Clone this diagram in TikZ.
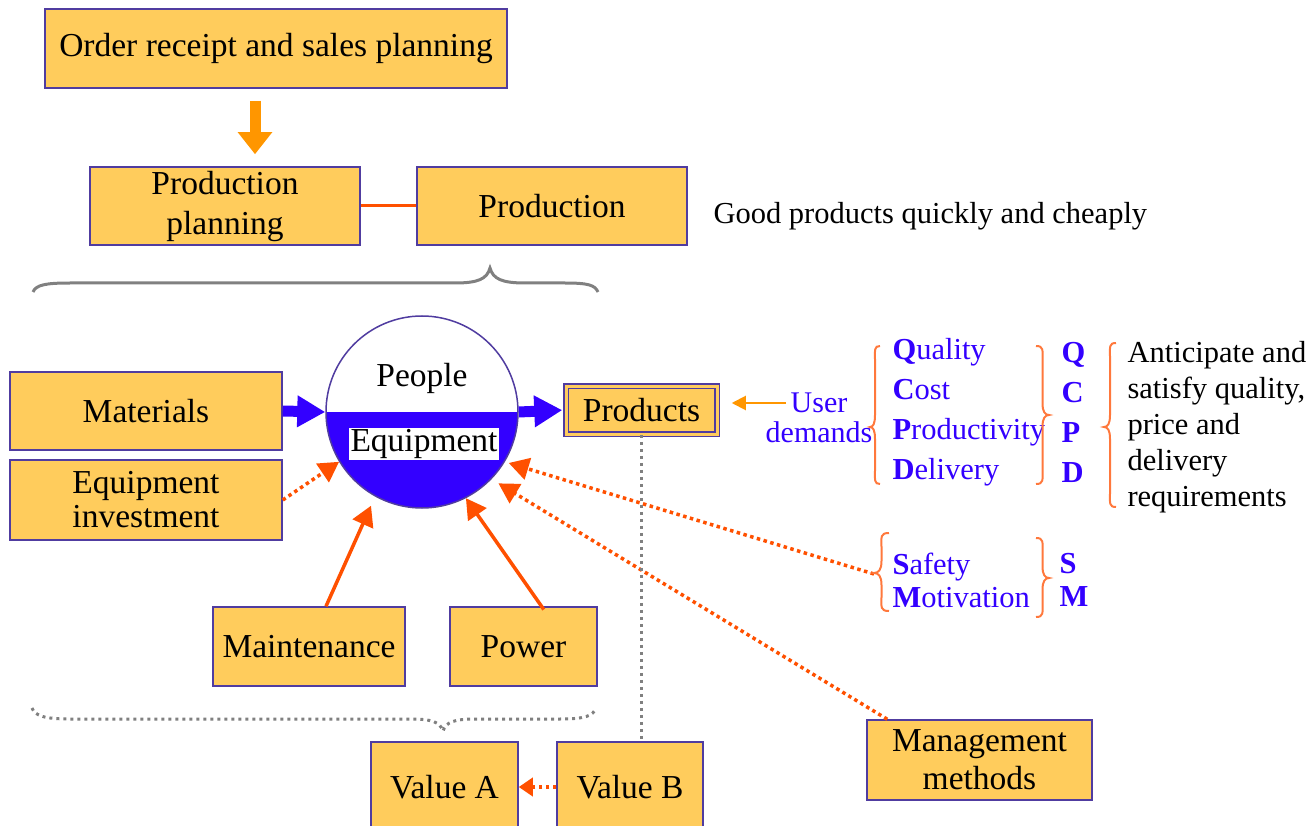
\documentclass[tikz,border=0pt]{standalone}
\usepackage{fontspec}
\setmainfont{Liberation Serif}
\usetikzlibrary{arrows.meta}
\definecolor{BoxFill}{RGB}{255,204,92}
\definecolor{BoxLine}{RGB}{80,60,160}
\definecolor{PushBlue}{RGB}{51,0,255}
\definecolor{ArrowRed}{RGB}{255,80,0}
\definecolor{FlowOrange}{RGB}{255,150,0}
\definecolor{BraceOrange}{RGB}{255,120,60}
\newcommand{\BoxFont}{\fontsize{33.5}{36}\selectfont}
\newcommand{\ListFont}{\fontsize{30.5}{40}\selectfont}
% brace: tip x, tip y, signed width, top y, bottom y
\newcommand{\curlybrace}[6][]{%
	\draw[#1] ({#2+#4},#5) .. controls ({#2+0.4*#4},#5) and ({#2+0.5*#4},{#5+4}) .. ({#2+0.5*#4},{#5+14})
	-- ({#2+0.5*#4},{#3-12}) .. controls ({#2+0.5*#4},{#3-3}) and ({#2+0.3*#4},#3) .. (#2,#3)
	.. controls ({#2+0.3*#4},#3) and ({#2+0.5*#4},{#3+3}) .. ({#2+0.5*#4},{#3+12})
	-- ({#2+0.5*#4},{#6-14}) .. controls ({#2+0.5*#4},{#6-4}) and ({#2+0.4*#4},#6) .. ({#2+#4},#6);}

\begin{document}
\begin{tikzpicture}[x=1pt,y=1pt,yscale=-1,xscale=1,
	box/.style={draw=BoxLine, fill=BoxFill, line width=1.5pt, inner sep=0pt, align=center, font=\BoxFont},
	fatblue/.style={PushBlue, line width=11pt, -{Triangle[length=28pt,width=30pt]}},
	redarrow/.style={ArrowRed, line width=3.5pt, -{Triangle[length=20pt,width=22pt]}},
	reddots/.style={redarrow, dash pattern=on 3.5pt off 3.5pt},
	graydots/.style={gray, line width=3pt, dash pattern=on 3pt off 4pt},
	orangebrace/.style={BraceOrange, line width=2pt}]
		\useasboundingbox (0,0) rectangle (1315,826);

		% Planning boxes at the top
		\node[box, minimum width=462pt, minimum height=79pt] (order) at (276,48.5) {Order receipt and sales planning};
		\node[box, minimum width=270pt, minimum height=78pt, font=\fontsize{33.5}{40}\selectfont] (plan) at (225,206) {Production\\planning};
		\node[box, minimum width=270pt, minimum height=78pt] (prodn) at (552,206) {Production};
		\node[anchor=west, font=\ListFont] (good) at (710,216) {Good products quickly and cheaply};

		\draw[FlowOrange, line width=11pt, -{Triangle[length=22pt,width=33pt]}, shorten <=12pt, shorten >=12pt]
		([xshift=-21pt]order.south) -- ([xshift=30pt]plan.north);
		\draw[ArrowRed, line width=3pt] (plan.east) -- (prodn.west);

		% Gray brace under the planning row
		\draw[gray, line width=3pt] (33,292) .. controls (36,285) and (45,283) .. (70,283) -- (455,283)
		.. controls (478,283) and (487,279) .. (490,268) .. controls (493,279) and (502,283) .. (525,283)
		-- (565,283) .. controls (588,283) and (595,285) .. (598,292);

		% People / Equipment circle
		\node[circle, draw=BoxLine, line width=1.5pt, fill=white, minimum size=192pt, inner sep=0pt,
		path picture={\fill[PushBlue] (path picture bounding box.west) rectangle (path picture bounding box.south east);}]
		(pe) at (422,412) {};
		\node[font=\BoxFont] (people) at (422,378) {People};
		\node[font=\BoxFont, fill=white, inner sep=1.5pt] (equip) at (424,444) {Equipment};

		% Input boxes
		\node[box, minimum width=272pt, minimum height=78pt] (mat) at (146,411) {Materials};
		\node[box, minimum width=272pt, minimum height=80pt, font=\fontsize{33.5}{34}\selectfont] (invest) at (146,500) {Equipment\\investment};
		\node[box, minimum width=192pt, minimum height=79pt] (maint) at (309,646.5) {Maintenance};
		\node[box, minimum width=147pt, minimum height=79pt] (power) at (523.5,646.5) {Power};
		\node[box, minimum width=225pt, minimum height=80pt, font=\fontsize{33.5}{38}\selectfont] (mgmt) at (979.5,760) {Management\\methods};

		% Products box
		\node[box, double=BoxFill, double distance=3pt, minimum width=151pt, minimum height=48pt] (prods) at (641.5,410) {Products};

		% Value boxes (cut by the bottom edge)
		\node[box, minimum width=147pt, minimum height=90pt] (vala) at (444.5,787) {Value A};
		\node[box, minimum width=146pt, minimum height=90pt] (valb) at (630,787) {Value B};

		% Blue flow through the circle
		\draw[fatblue] (mat.east) -- (pe.west);
		\draw[fatblue, shorten >=3pt] (pe.east) -- (prods.west);

		% Red arrows into the circle
		\draw[reddots] (invest.east) -- (pe.211);
		\draw[redarrow, shorten >=10pt] ([xshift=17pt]maint.north) -- (pe.241);
		\draw[redarrow, shorten <=-4pt] ([xshift=18pt]power.north) -- (pe.297);
		\draw[reddots, shorten >=8pt] ([xshift=21pt]mgmt.north west) -- (pe.316);
		\coordinate (sbr) at (874,574);
		\draw[reddots, shorten >=4pt] (sbr) -- (pe.329);

		% Products down to the values
		\draw[graydots] (prods.south) -- (prods.south |- valb.north);
		\draw[reddots, -{Triangle[length=14pt,width=18pt]}] (valb.west) -- (vala.east);

		% Dotted gray brace over the values
		\draw[graydots] (32,708) .. controls (35,716) and (45,719) .. (70,719) -- (410,719)
		.. controls (432,719) and (440,722) .. (443,731) .. controls (446,722) and (454,719) .. (476,719)
		-- (560,719) .. controls (585,719) and (593,716) .. (596,708);

		% User demands
		\node[align=center, text=PushBlue, font=\fontsize{30}{30}\selectfont] (udem) at (819,418) {User\\demands};
		\coordinate (uarr) at (786,403);
		\draw[FlowOrange, line width=2pt, -{Triangle[length=14pt,width=14pt]}, shorten >=14pt] (uarr) -- (uarr -| prods.east);

		% QCPD lists
		\curlybrace[orangebrace]{870}{427}{10}{346}{484}
		\node[anchor=west, align=left, text=PushBlue, font=\ListFont] (qlist) at (889,412)
		{\textbf{Q}uality\\\textbf{C}ost\\\textbf{P}roductivity\\\textbf{D}elivery};
		\curlybrace[orangebrace]{1049}{415}{-13}{346}{484}
		\node[anchor=west, align=left, text=PushBlue, font=\ListFont\bfseries] (qcpd) at (1058,412) {Q\\C\\P\\D};
		\curlybrace[orangebrace]{1104}{427}{12}{343}{507}
		\node[anchor=west, align=left, font=\fontsize{30.5}{36}\selectfont] (antic) at (1124,427)
		{Anticipate and\\satisfy quality,\\price and\\delivery\\requirements};

		% SM lists
		\curlybrace[orangebrace]{874}{573}{15}{533}{611}
		\node[anchor=west, align=left, text=PushBlue, font=\fontsize{30.5}{33}\selectfont] (slist) at (889,580)
		{\textbf{S}afety\\\textbf{M}otivation};
		\curlybrace[orangebrace]{1049}{578}{-13}{538}{617}
		\node[anchor=west, align=left, text=PushBlue, font=\fontsize{30.5}{33}\selectfont\bfseries] (sm) at (1056,580) {S\\M};
	\end{tikzpicture}
\end{document}
